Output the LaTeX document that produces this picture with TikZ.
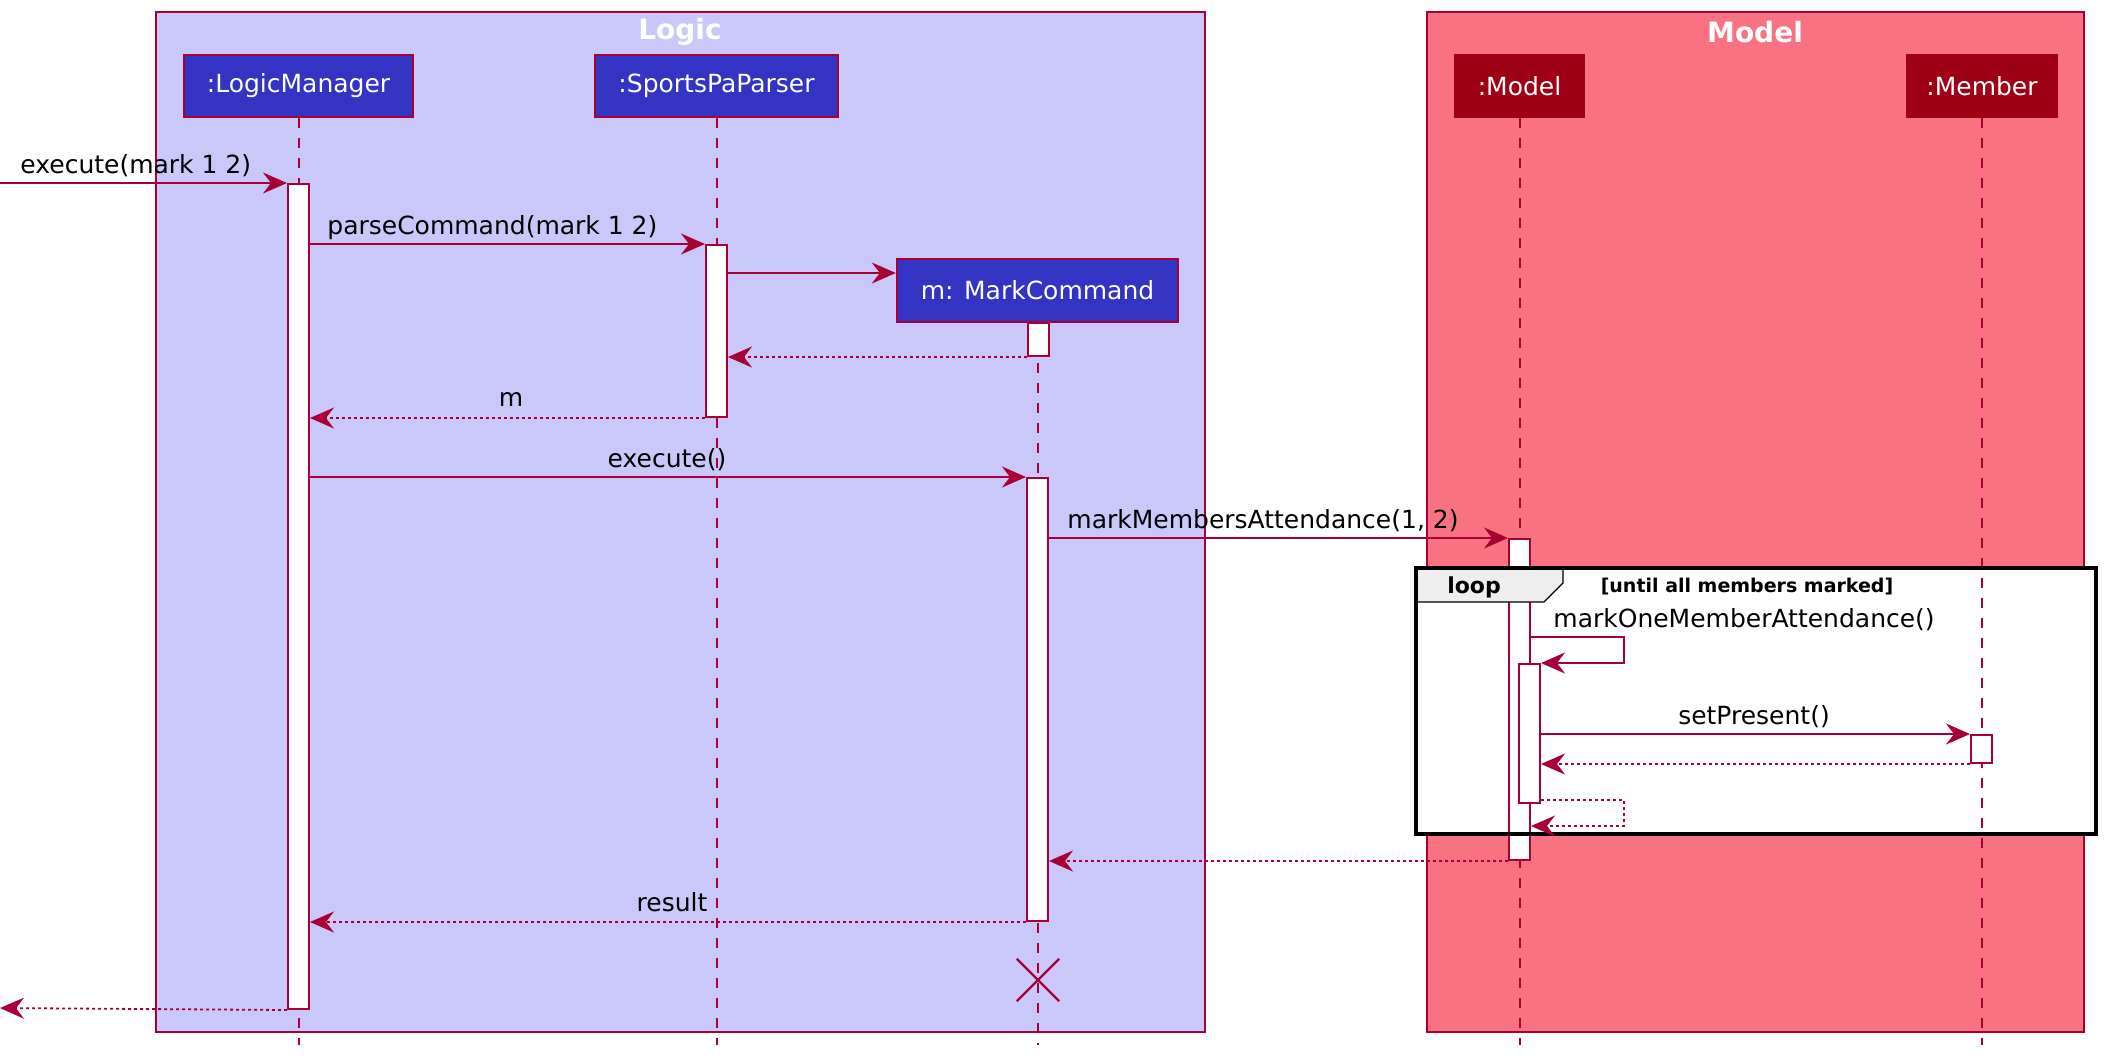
\documentclass[tikz,border=0pt]{standalone}
\usepackage{fontspec}
\setmainfont{DejaVu Sans}
\usetikzlibrary{arrows.meta,shapes.misc}
\definecolor{crim}{HTML}{A80036}
\definecolor{logicfill}{HTML}{C9C8F9}
\definecolor{modelfill}{HTML}{F97282}
\definecolor{partblue}{HTML}{3434C4}
\definecolor{partred}{HTML}{9E0016}
\definecolor{tabgray}{HTML}{EEEEEE}
\begin{document}
\begin{tikzpicture}[x=0.5pt,y=-0.5pt,
  grp/.style={draw=crim, line width=0.8pt},
  grptitle/.style={text=white, font=\fontsize{14}{16}\selectfont\bfseries, inner sep=0},
  part/.style={draw=crim, line width=1.2pt, text=white, inner sep=0, minimum height=31pt, font=\fontsize{12.5}{15}\selectfont},
  lifeline/.style={draw=crim, line width=1pt, dash pattern=on 5pt off 5pt},
  act/.style={draw=crim, fill=white, line width=1pt, inner sep=0, minimum width=10.5pt, anchor=north},
  msg/.style={draw=crim, line width=0.9pt, -{Stealth[length=12pt,width=10.5pt,inset=4pt]}},
  ret/.style={msg, dash pattern=on 1.5pt off 1.5pt},
  lbl/.style={font=\fontsize{12.5}{15}\selectfont, inner sep=0},
]
\useasboundingbox (0,0) rectangle (2105,1056);

% groups
\draw[grp, fill=logicfill] (156,12) rectangle (1205,1032);
\node[grptitle] (tlogic) at (680,32) {Logic};
\draw[grp, fill=modelfill] (1427,12) rectangle (2084,1032);
\node[grptitle] (tmodel) at (1755,32) {Model};

% participants
\node[part, fill=partblue, minimum width=114.5pt] (lm) at (298.5,86) {:LogicManager};
\node[part, fill=partblue, minimum width=121.5pt] (sp) at (716.5,86) {:SportsPaParser};
\node[part, fill=partblue, minimum width=140.5pt, minimum height=31.5pt] (mc) at (1037.5,290.5) {m: MarkCommand};
\node[part, fill=partred, draw=partred, minimum width=64.5pt] (mo) at (1519.5,86) {:Model};
\node[part, fill=partred, draw=partred, minimum width=75pt] (me) at (1982,86) {:Member};

% loop frame background
\fill[white] (1416,568) rectangle (2096,834);

% lifelines
\draw[lifeline] (lm.south) -- (lm.south |- 0,1045);
\draw[lifeline] (sp.south) -- (sp.south |- 0,1045);
\draw[lifeline] (mc.south) -- (mc.south |- 0,1045);
\draw[lifeline] (mo.south) -- (mo.south |- 0,1045);
\draw[lifeline] (me.south) -- (me.south |- 0,1045);

% activations
\node[act, minimum height=412.5pt] (lmA) at (298.5,183) {};
\node[act, minimum height=86pt] (spA) at (716.5,244) {};
\node[act, minimum height=16.5pt] (mcA1) at (1038,322) {};
\node[act, minimum height=221.5pt] (mcA2) at (1037.5,477) {};
\node[act, minimum height=160.5pt] (moA) at (1519.5,538) {};
\node[act, minimum height=69.5pt] (moB) at (1529.5,663) {};
\node[act, minimum height=14pt] (meA) at (1981.5,734) {};

% loop frame outline and tab
\path[draw=black, line width=0.6pt, fill=tabgray] (1416,568) -- (1563,568) -- (1563,583) -- (1544,602) -- (1416,602) -- cycle;
\draw[black, line width=1.7pt] (1416,568) rectangle (2096,834);
\node[font=\fontsize{11}{13}\selectfont\bfseries, inner sep=0] (looplbl) at (1474,587) {loop};
\node[font=\fontsize{9.5}{12}\selectfont\bfseries, inner sep=0] (guard) at (1747,587) {[until all members marked]};

% messages
\coordinate (in) at (0,183);
\coordinate (out) at (0,1008);
\draw[msg] (in) -- (lmA.north west);
\node[lbl, anchor=base west] at (20,173) {execute(mark 1 2)};

\draw[msg] (lmA.east |- spA.north) -- (spA.north west);
\node[lbl, anchor=base west] at (327,234) {parseCommand(mark 1 2)};

\draw[msg] (spA.east |- 0,273) -- (mc.west |- 0,273);

\draw[ret] (mcA1.south west) -- (spA.east |- mcA1.south);

\draw[ret] (spA.south west) -- (lmA.east |- spA.south);
\node[lbl, anchor=base] at (511,406) {m};

\draw[msg] (lmA.east |- mcA2.north) -- (mcA2.north west);
\node[lbl, anchor=base] at (667,467) {execute()};

\draw[msg] (mcA2.east |- moA.north) -- (moA.north west);
\node[lbl, anchor=base west] at (1067,528) {markMembersAttendance(1, 2)};

\draw[msg] (moA.east |- 0,637) -- (1624,637) -- (1624,663) -- (moB.north east);
\node[lbl, anchor=base west] at (1553,627) {markOneMemberAttendance()};

\draw[msg] (moB.east |- meA.north) -- (meA.north west);
\node[lbl, anchor=base] at (1754,724) {setPresent()};

\draw[ret] (meA.south west) -- (moB.east |- meA.south);

\draw[ret] (moB.east |- 0,800) -- (1624,800) -- (1624,826) -- (moA.east |- 0,826);

\draw[ret] (moA.south west) -- (mcA2.east |- moA.south);

\draw[ret] (mcA2.south west) -- (lmA.east |- mcA2.south);
\node[lbl, anchor=base] at (672,911) {result};

\draw[ret] (lmA.south west) -- (out);

% destroy
\node[cross out, draw=crim, line width=1.2pt, minimum size=20pt, inner sep=0] (kill) at (1038,980) {};
\end{tikzpicture}
\end{document}
